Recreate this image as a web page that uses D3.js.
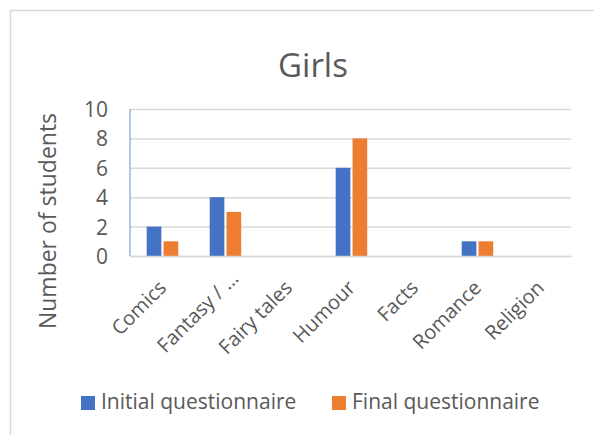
<!DOCTYPE html>
<html>
<head>
<meta charset="utf-8">
<script src="https://cdn.jsdelivr.net/npm/d3@7"></script>
<style>
  html, body { margin: 0; padding: 0; background: #fff; }
  svg { display: block; font-family: "Open Sans", "Noto Sans", sans-serif; }
</style>
</head>
<body>
<svg id="chart" width="594" height="435"></svg>
<script>
// Reading genres chosen by girls, before and after
const categories = ["Comics", "Fantasy / …", "Fairy tales", "Humour", "Facts", "Romance", "Religion"];
const seriesNames = ["Initial questionnaire", "Final questionnaire"];
const initialValues = [2, 4, 0, 6, 0, 1, 0];
const finalValues = [1, 3, 0, 8, 0, 1, 0];
const yTicks = [0, 2, 4, 6, 8, 10];
const seriesColors = ["#4472C4", "#ED7D31"];

const svg = d3.select("#chart");
const textColor = "#595959";

// outer chart frame
svg.append("rect")
  .attr("x", 10.5).attr("y", 10.5)
  .attr("width", 700).attr("height", 600)
  .attr("fill", "#fff")
  .attr("stroke", "#d9d9d9").attr("stroke-width", 1.5);

const plot = { left: 130, right: 571, top: 109, bottom: 256 };

const x0 = d3.scaleBand().domain(categories).range([plot.left, plot.right]).paddingInner(0).paddingOuter(0);
const bw = x0.bandwidth();
const x1 = d3.scaleBand().domain(seriesNames).range([bw * 0.265, bw * 0.765]).paddingInner(0.13);
const y = d3.scaleLinear().domain([0, 10]).range([plot.bottom, plot.top]);

// title
svg.append("text")
  .attr("x", 313).attr("y", 77)
  .attr("text-anchor", "middle")
  .attr("font-size", 33)
  .attr("fill", textColor)
  .text("Girls");

// horizontal gridlines
const yAxis = d3.axisLeft(y).tickValues(yTicks).tickSize(-(plot.right - plot.left)).tickPadding(22).tickFormat(d3.format("d"));
const gy = svg.append("g").attr("transform", `translate(${plot.left},0)`).call(yAxis);
gy.select(".domain").remove();
gy.selectAll(".tick line").attr("stroke", "#d9d9d9").attr("stroke-width", 1.5);
gy.selectAll(".tick text")
  .attr("font-size", 21)
  .attr("font-family", "\"Open Sans\", sans-serif")
  .attr("fill", textColor)
  .attr("dy", "0.36em");

// vertical axis line
svg.append("line")
  .attr("x1", plot.left).attr("x2", plot.left)
  .attr("y1", plot.top).attr("y2", plot.bottom)
  .attr("stroke", "#7f9fd8").attr("stroke-width", 1.2);

// bars
const rows = categories.map((c, i) => ({ cat: c, vals: [initialValues[i], finalValues[i]] }));
const groups = svg.append("g").selectAll("g").data(rows).join("g")
  .attr("transform", d => `translate(${x0(d.cat)},0)`);
groups.selectAll("rect")
  .data(d => d.vals.map((v, k) => ({ name: seriesNames[k], v, k })))
  .join("rect")
  .attr("x", d => x1(d.name))
  .attr("width", x1.bandwidth())
  .attr("y", d => y(d.v))
  .attr("height", d => y(0) - y(d.v))
  .attr("fill", d => seriesColors[d.k]);

// category labels (a truncated label sits further along its slanted box)
const xAxis = d3.axisBottom(x0).tickSize(0).tickPadding(0);
const gx = svg.append("g").attr("transform", `translate(0,${plot.bottom})`).call(xAxis);
gx.select(".domain").attr("stroke", "#d9d9d9").attr("stroke-width", 1.5);
gx.selectAll(".tick text")
  .attr("font-size", 20)
  .attr("font-family", "\"Open Sans\", sans-serif")
  .attr("fill", textColor)
  .attr("text-anchor", "end")
  .attr("y", 0).attr("dy", 0)
  .attr("x", d => d.endsWith("…") ? 13 : 0)
  .attr("transform", "translate(6,33) rotate(-45)");

// y-axis title
svg.append("text")
  .attr("transform", "translate(56,221) rotate(-90)")
  .attr("text-anchor", "middle")
  .attr("font-size", 23)
  .attr("fill", textColor)
  .text("Number of students");

// legend
const legendX = [81, 332];
const lg = svg.append("g").selectAll("g").data(seriesNames).join("g")
  .attr("transform", (d, i) => `translate(${legendX[i]},396)`);
lg.append("rect").attr("width", 14).attr("height", 14).attr("fill", (d, i) => seriesColors[i]);
lg.append("text")
  .attr("x", 20).attr("y", 13)
  .attr("font-size", 21)
  .attr("fill", textColor)
  .text(d => d);
</script>
</body>
</html>
